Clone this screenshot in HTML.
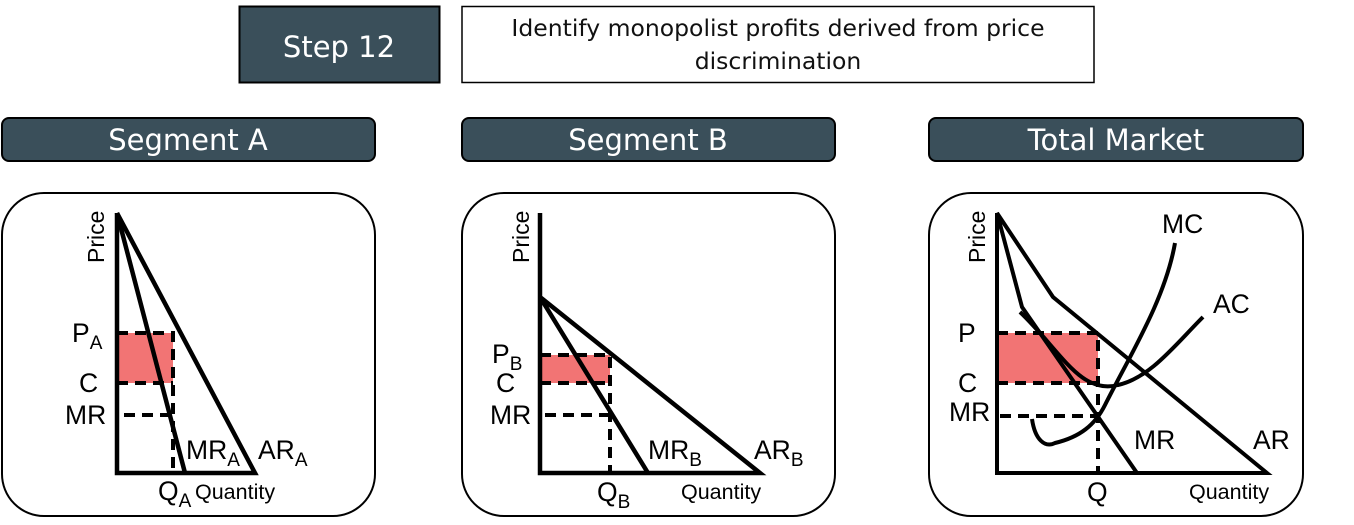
<!DOCTYPE html>
<html><head><meta charset="utf-8"><style>
body{margin:0;background:#fff;width:1354px;height:525px;overflow:hidden}
svg{display:block}
</style></head><body>
<svg width="1354" height="525" xmlns="http://www.w3.org/2000/svg" font-family="Liberation Sans, sans-serif">
<rect x="239.5" y="6.5" width="200" height="76" fill="#3a4f5a" stroke="#000" stroke-width="2"/>
<text x="339" y="57" font-size="29" fill="#fff" text-anchor="middle" font-family="DejaVu Sans, sans-serif">Step 12</text>
<rect x="462" y="6.5" width="632" height="76" fill="#fff" stroke="#000" stroke-width="1.5"/>
<text x="778" y="36" font-size="23.5" fill="#111" text-anchor="middle" font-family="DejaVu Sans, sans-serif">Identify monopolist profits derived from price</text>
<text x="778" y="69" font-size="23.5" fill="#111" text-anchor="middle" font-family="DejaVu Sans, sans-serif">discrimination</text>
<g fill="#3a4f5a" stroke="#000" stroke-width="2">
<rect x="2" y="118" width="373" height="43" rx="7"/>
<rect x="462" y="118" width="373" height="43" rx="7"/>
<rect x="929" y="118" width="374" height="43" rx="7"/>
</g>
<g font-size="29" fill="#fff" text-anchor="middle" font-family="DejaVu Sans, sans-serif">
<text x="188" y="150">Segment A</text><text x="648" y="150">Segment B</text><text x="1116" y="150">Total Market</text>
</g>
<g fill="none" stroke="#000" stroke-width="2">
<rect x="2" y="193" width="373" height="323" rx="42"/>
<rect x="462" y="193" width="373" height="323" rx="42"/>
<rect x="929" y="193" width="374" height="323" rx="42"/>
</g>
<!-- Segment A -->
<rect x="117" y="333" width="56" height="50" fill="#f27474"/>
<g stroke="#000" stroke-width="4.5" fill="none">
<polyline points="117,213 117,473 255,473 117,213"/>
<line x1="117" y1="213" x2="185" y2="473"/>
</g>
<g stroke="#000" stroke-width="4" stroke-dasharray="11,7" fill="none">
<polyline points="117,333 173,333 173,470"/>
<line x1="117" y1="383" x2="173" y2="383"/>
<line x1="124" y1="415" x2="173" y2="415"/>
</g>
<!-- Segment B -->
<rect x="540" y="355" width="70" height="28" fill="#f27474"/>
<g stroke="#000" stroke-width="4.5" fill="none">
<polyline points="540,213 540,473 760,473 540,297 648,473"/>
</g>
<g stroke="#000" stroke-width="4" stroke-dasharray="11,7" fill="none">
<polyline points="540,355 610,355 610,473"/>
<line x1="540" y1="383" x2="610" y2="383"/>
<line x1="545" y1="415" x2="610" y2="415"/>
</g>
<!-- Total -->
<rect x="997" y="333" width="101" height="50" fill="#f27474"/>
<g stroke="#000" stroke-width="4" fill="none">
<polyline points="997,213 997,473 1267,473 1053,297 997,213 1022,307 1137,473"/>
<path d="M1020,312 C1060,350 1080,395 1118,385 C1150,378 1175,345 1203,317"/>
<path d="M1032,419 C1035,440 1045,448 1055,443 C1080,437 1095,425 1105,405 C1130,355 1165,300 1175,243"/>
</g>
<g stroke="#000" stroke-width="4" stroke-dasharray="11,7" fill="none">
<polyline points="997,333 1098,333 1098,473"/>
<line x1="997" y1="383" x2="1098" y2="383"/>
<line x1="1000" y1="416" x2="1098" y2="416"/>
</g>
<!-- labels -->
<g font-size="26.5" fill="#000">
<text transform="translate(104,263) rotate(-90)" font-size="23">Price</text>
<text transform="translate(529,263) rotate(-90)" font-size="23">Price</text>
<text transform="translate(985,263) rotate(-90)" font-size="23">Price</text>
<text x="72" y="342">P<tspan font-size="19" dy="7">A</tspan></text>
<text x="79" y="392">C</text>
<text x="65" y="424">MR</text>
<text x="186" y="459">MR<tspan font-size="19" dy="7">A</tspan></text>
<text x="258" y="459">AR<tspan font-size="19" dy="7">A</tspan></text>
<text x="158" y="500">Q<tspan font-size="19" dy="7">A</tspan></text>
<text x="195" y="499" font-size="21.5">Quantity</text>
<text x="492" y="363">P<tspan font-size="19" dy="7">B</tspan></text>
<text x="496" y="392">C</text>
<text x="490" y="424">MR</text>
<text x="648" y="459">MR<tspan font-size="19" dy="7">B</tspan></text>
<text x="754" y="459">AR<tspan font-size="19" dy="7">B</tspan></text>
<text x="597" y="501">Q<tspan font-size="19" dy="7">B</tspan></text>
<text x="681" y="499" font-size="21.5">Quantity</text>
<text x="958" y="342">P</text>
<text x="958" y="392">C</text>
<text x="949" y="421">MR</text>
<text x="1134" y="449">MR</text>
<text x="1253" y="449">AR</text>
<text x="1162" y="233">MC</text>
<text x="1213" y="313">AC</text>
<text x="1087" y="501">Q</text>
<text x="1189" y="499" font-size="21.5">Quantity</text>
</g>
</svg>
</body></html>
